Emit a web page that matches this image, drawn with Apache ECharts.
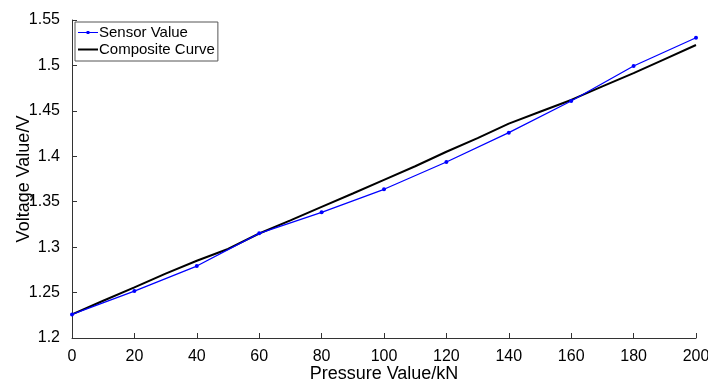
<!DOCTYPE html>
<html>
<head>
<meta charset="utf-8">
<script src="https://cdn.jsdelivr.net/npm/echarts@6/dist/echarts.min.js"></script>
<style>
  html, body { margin: 0; padding: 0; background: #fff; }
  #chart { width: 708px; height: 385px; }
</style>
</head>
<body>
<div id="chart"></div>
<script>
  // pressure (kN) of the measured points
  var pressure = [0, 20, 40, 60, 80, 100, 120, 140, 160, 180, 200];
  // sensor voltage (V)
  var sensorValue = [1.226, 1.2517, 1.2792, 1.3152, 1.3383, 1.3637, 1.3937, 1.426, 1.4608, 1.4994, 1.5305];
  // composite (fitted) curve, read every 10 kN
  var curvePressure = [0, 10, 20, 30, 40, 50, 60, 70, 80, 90, 100, 110, 120, 130, 140, 150, 160, 170, 180, 190, 200];
  var curveValue = [1.226, 1.241, 1.2558, 1.2708, 1.285, 1.298, 1.315, 1.3295, 1.3443, 1.359, 1.374, 1.389, 1.405, 1.420, 1.436, 1.449, 1.462, 1.477, 1.4915, 1.507, 1.5225];

  var sensorData = pressure.map(function (p, i) { return [p, sensorValue[i]]; });
  var curveData = curvePressure.map(function (p, i) { return [p, curveValue[i]]; });

  var myChart = echarts.init(document.getElementById('chart'));
  var font = 'Liberation Sans, Arial, sans-serif';

  // legend icons: thin line (+ small dot for the sensor series), box kept at 20x10
  var sensorIcon = 'path://M0,0M20,10M0,4.4L20,4.4L20,5.6L0,5.6ZM8.6,3.6L11.4,3.6L11.4,6.4L8.6,6.4Z';
  var curveIcon = 'path://M0,0M20,10M0,4L20,4L20,6L0,6Z';

  var option = {
    animation: false,
    textStyle: { fontFamily: font },
    grid: { left: 72, right: 12, top: 20, bottom: 47, outerBoundsMode: 'none' },
    legend: {
      orient: 'vertical',
      left: 75,
      top: 22,
      padding: [3, 3, 4, 3],
      itemGap: 2,
      itemWidth: 20,
      itemHeight: 10,
      borderColor: '#555',
      borderWidth: 1,
      backgroundColor: '#fff',
      textStyle: { color: '#000', fontSize: 15, fontFamily: font, padding: [0, 0, 0, -4] },
      data: [
        { name: 'Sensor Value', icon: sensorIcon },
        { name: 'Composite Curve', icon: curveIcon }
      ]
    },
    xAxis: {
      type: 'value',
      min: 0,
      max: 200,
      interval: 20,
      name: 'Pressure Value/kN',
      nameLocation: 'middle',
      nameGap: 27,
      nameMoveOverlap: false,
      nameTextStyle: { color: '#000', fontSize: 18, fontFamily: font },
      axisLine: { lineStyle: { color: '#333', width: 1 } },
      axisTick: { inside: true, length: 5, lineStyle: { color: '#333' } },
      axisLabel: { color: '#000', fontSize: 16, margin: 11 },
      splitLine: { show: false }
    },
    yAxis: {
      type: 'value',
      min: 1.2,
      max: 1.55,
      interval: 0.05,
      name: 'Voltage Value/V',
      nameLocation: 'middle',
      nameGap: 39,
      nameMoveOverlap: false,
      nameTextStyle: { color: '#000', fontSize: 18, fontFamily: font },
      axisLine: { show: true, lineStyle: { color: '#333', width: 1 } },
      axisTick: { show: true, inside: true, length: 5, lineStyle: { color: '#333' } },
      axisLabel: { color: '#000', fontSize: 16, margin: 12 },
      splitLine: { show: false }
    },
    series: [
      {
        name: 'Sensor Value',
        type: 'line',
        data: sensorData,
        symbol: 'circle',
        symbolSize: 4,
        itemStyle: { color: '#0000ff' },
        lineStyle: { color: '#0000ff', width: 1.3 },
        z: 3
      },
      {
        name: 'Composite Curve',
        type: 'line',
        data: curveData,
        symbol: 'none',
        itemStyle: { color: '#000' },
        lineStyle: { color: '#000', width: 2 },
        z: 2
      }
    ]
  };

  myChart.setOption(option);
  window.addEventListener('resize', function () {
    myChart.resize();
  });
</script>
</body>
</html>
